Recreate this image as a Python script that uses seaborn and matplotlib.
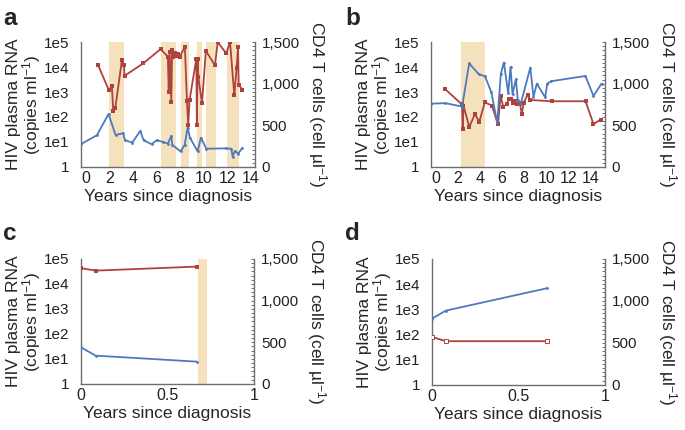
import matplotlib
matplotlib.use("Agg")
import matplotlib.pyplot as plt
from matplotlib.ticker import FixedLocator, MultipleLocator
import seaborn as sns

# ---- data ----
# panel a
a_rna_years = [1.04, 1.98, 2.23, 2.35, 2.52, 3.08, 3.25, 3.31, 4.89, 6.36, 6.98, 7.05,
               7.13, 7.27, 7.34, 7.45, 7.55, 7.7, 7.85, 8.0, 8.42, 8.6, 8.7, 8.82, 9.39,
               9.44, 9.5, 9.56, 9.87, 10.2, 10.97, 11.2, 11.93, 12.25, 12.61, 12.81,
               12.93, 12.98, 13.27]
a_rna = [12600, 1175, 1740, 174, 224, 18600, 12600, 4470, 14100, 52500, 26300, 1000,
         39800, 398, 50100, 25100, 38000, 28200, 33100, 26300, 66100, 417, 48, 479,
         21400, 47, 21400, 3980, 355, 44700, 11700, 100000, 35500, 100000, 741, 9550,
         66100, 2000, 1260]
a_cd4_years = [-0.4, 0.96, 1.95, 2.54, 3.19, 3.34, 3.96, 4.64, 4.92, 5.6, 6.02, 6.56,
               6.98, 7.27, 7.35, 8.05, 8.4, 8.65, 8.86, 9.5, 9.78, 10.24, 11.9, 12.35,
               12.47, 12.65, 12.95, 13.27]
a_cd4 = [272, 380, 636, 384, 404, 320, 292, 432, 320, 272, 320, 300,
         280, 372, 264, 186, 262, 470, 348, 186, 350, 218, 222, 218,
         124, 188, 160, 224]
a_bands = [(1.97, 3.25), (6.4, 7.69), (8.06, 8.75), (9.45, 9.84), (10.24, 11.05), (11.95, 12.99)]

# panel b
b_rna_years = [0.81, 2.37, 2.43, 2.5, 3.03, 3.54, 3.93, 4.44, 5.08, 5.63, 5.86, 6.1, 6.4,
               6.61, 6.79, 6.94, 7.15, 7.39, 7.6, 7.78, 7.96, 8.3, 8.55, 10.49, 13.55,
               14.27, 14.93]
b_rna = [1350, 316, 33, 282, 40, 132, 63, 389, 282, 50, 724, 257, 316, 537, 537, 347,
         417, 316, 355, 132, 372, 776, 479, 427, 427, 52, 79]
b_cd4_years = [-0.45, 0.87, 2.38, 3.02, 3.9, 4.45, 5.03, 5.56, 5.88, 6.16, 6.55, 6.76,
               6.94, 7.25, 7.42, 7.69, 8.55, 8.84, 9.14, 9.9, 10.08, 10.45, 13.54, 14.27,
               15.0]
b_cd4 = [760, 766, 725, 1245, 1112, 1090, 895, 530, 1115, 1255, 885, 1204, 871, 1058,
         800, 759, 1194, 839, 1001, 835, 1001, 1030, 1093, 853, 1002]
b_bands = [(2.28, 4.47)]

# panel c
c_years = [0.0, 0.085, 0.669]
c_rna = [42700, 33900, 49000]
c_cd4 = [440, 340, 268]
c_bands = [(0.678, 0.726)]

# panel d
d_years = [0.0, 0.083, 0.668]
d_rna = [81, 54, 54]
d_cd4 = [786, 884, 1151]
d_bands = []

RED = "#AD423E"
BLUE = "#4D79BE"
BAND = "#F6E1BD"
SPINE = "#6E6E6E"

sns.set_style("white")
plt.rcParams["font.family"] = ["Liberation Sans", "DejaVu Sans"]
plt.rcParams["mathtext.fontset"] = "custom"
plt.rcParams["mathtext.rm"] = "Liberation Sans"
plt.rcParams["mathtext.it"] = "Liberation Sans"

fig = plt.figure(figsize=(6.85, 4.30), dpi=100)


def panel(rect, letter, letter_xy, rna_x, rna_y, cd4_x, cd4_y, bands, xlim, xticks,
          xticklabels, open_red=False):
    ax = fig.add_axes(rect)
    ax.set_yscale("log")
    for lo, hi in bands:
        ax.axvspan(lo, hi, color=BAND, lw=0, zorder=0)
    sns.lineplot(x=rna_x, y=rna_y, ax=ax, sort=False, estimator=None, color=RED,
                 linewidth=1.3, marker="s", markersize=2.6 if open_red else 3,
                 markerfacecolor="white" if open_red else RED,
                 markeredgecolor=RED, markeredgewidth=0.7 if open_red else 0, zorder=3)
    ax.set_ylim(1, 1e5)
    ax.set_xlim(*xlim)
    ax.yaxis.set_major_locator(FixedLocator([1, 1e1, 1e2, 1e3, 1e4, 1e5]))
    ax.set_yticklabels(["1", "1e1", "1e2", "1e3", "1e4", "1e5"])
    ax.yaxis.set_minor_locator(FixedLocator([]))
    ax.set_xticks(xticks)
    ax.set_xticklabels(xticklabels)
    ax.tick_params(axis="y", length=0, pad=8, labelsize=11, colors="#222222")
    ax.tick_params(axis="x", length=0, pad=3, labelsize=11.5, colors="#222222")
    ax.set_xlabel("Years since diagnosis", fontsize=12.5, labelpad=2)
    ax.set_ylabel("HIV plasma RNA\n(copies ml$^{-1}$)", fontsize=12.5, labelpad=1,
                  linespacing=0.95)
    for s in ["top", "right"]:
        ax.spines[s].set_visible(False)
    for s in ["left", "bottom"]:
        ax.spines[s].set_color(SPINE)
        ax.spines[s].set_linewidth(1.0)

    ax2 = ax.twinx()
    sns.lineplot(x=cd4_x, y=cd4_y, ax=ax2, sort=False, estimator=None, color=BLUE,
                 linewidth=1.3, marker="o", markersize=2.0, markeredgewidth=0, zorder=3)
    ax2.set_ylim(0, 1500)
    ax2.set_xlim(*xlim)
    ax2.set_yticks([0, 500, 1000, 1500])
    ax2.set_yticklabels(["0", "500", "1,000", "1,500"])
    ax2.yaxis.set_minor_locator(MultipleLocator(50))
    ax2.tick_params(axis="y", which="both", direction="in", length=2.5, width=0.7,
                    color=SPINE, pad=5, labelsize=11, colors="#222222")
    ax2.tick_params(axis="y", which="both", color=SPINE)
    ax2.set_ylabel("CD4 T cells (cell µl$^{-1}$)", fontsize=12.5, rotation=-90,
                   labelpad=21)
    for s in ["top", "left", "bottom"]:
        ax2.spines[s].set_visible(False)
    ax2.spines["right"].set_color(SPINE)
    ax2.spines["right"].set_linewidth(1.0)

    fig.text(letter_xy[0] / 685, 1 - letter_xy[1] / 430, letter, fontsize=17.5,
             fontweight="bold", va="baseline", ha="left")
    return ax, ax2


yrs = list(range(0, 15, 2))
panel([0.118, 0.612, 0.254, 0.290], "a", (3, 25), a_rna_years, a_rna, a_cd4_years,
      a_cd4, a_bands, (-0.4, 14.35), yrs, [str(v) for v in yrs])
panel([0.629, 0.612, 0.254, 0.290], "b", (345, 25), b_rna_years, b_rna, b_cd4_years,
      b_cd4, b_bands, (-0.45, 15.3), yrs, [str(v) for v in yrs])
panel([0.118, 0.107, 0.253, 0.291], "c", (3, 240), c_years, c_rna, c_years, c_cd4,
      c_bands, (0, 1), [0, 0.5, 1], ["0", "0.5", "1"])
panel([0.630, 0.105, 0.253, 0.293], "d", (345, 240), d_years, d_rna, d_years, d_cd4,
      d_bands, (0, 1), [0, 0.5, 1], ["0", "0.5", "1"], open_red=True)

fig.savefig("out.png", dpi=100)
